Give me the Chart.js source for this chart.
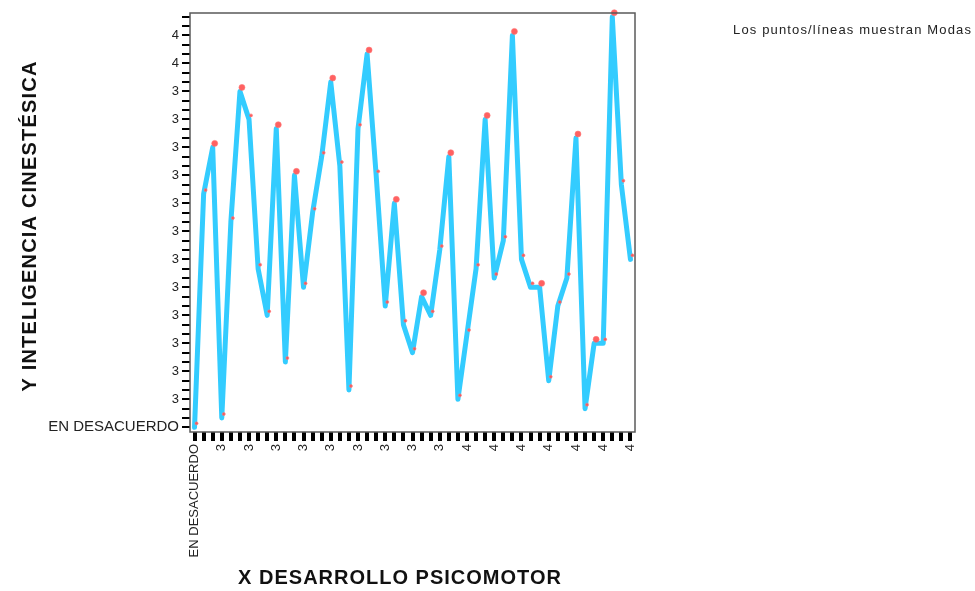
<!DOCTYPE html>
<html lang="es">
<head>
    <meta charset="UTF-8">
    <title>Y INTELIGENCIA CINESTÉSICA por X DESARROLLO PSICOMOTOR</title>
    <style>
        html, body { margin: 0; padding: 0; background: #fff; overflow: hidden; }
        canvas { display: block; }
    </style>
</head>
<body>
    <canvas id="modeChart" width="975" height="591"></canvas>

    <script src="https://cdn.jsdelivr.net/npm/chart.js"></script>
    <script>
        // categorías del eje X (49), solo se rotula una de cada tres
        const xCategories = [
            'EN DESACUERDO', '3', '3', '3', '3', '3', '3', '3', '3', '3',
            '3', '3', '3', '3', '3', '3', '3', '3', '3', '3',
            '3', '3', '3', '3', '3', '3', '3', '3', '3', '3',
            '4', '4', '4', '4', '4', '4', '4', '4', '4', '4',
            '4', '4', '4', '4', '4', '4', '4', '4', '4'
        ];

        // categorías del eje Y (45 posiciones)
        const yCategories = [
            'EN DESACUERDO', '3', '3', '3', '3', '3', '3', '3', '3', '3',
            '3', '3', '3', '3', '3', '3', '3', '3', '3', '3',
            '3', '3', '3', '3', '3', '3', '3', '3', '3', '3',
            '3', '3', '3', '3', '3', '3', '3', '3', '3', '4',
            '4', '4', '4', '4', '4'
        ];

        // moda de Y para cada categoría de X (posición en el eje Y)
        const modeValues = [
            0, 25, 30, 1, 22, 36, 33, 17, 12, 32,
            7, 27, 15, 23, 29, 37, 28, 4, 32, 40,
            27, 13, 24, 11, 8, 14, 12, 19, 29, 3,
            10, 17, 33, 16, 20, 42, 18, 15, 15, 5,
            13, 16, 31, 2, 9, 9, 44, 26, 18
        ];

        const xTitle = 'X DESARROLLO PSICOMOTOR';
        const yTitle = 'Y INTELIGENCIA CINESTÉSICA';
        const note = 'Los puntos/líneas muestran Modas';

        const FONT = '"Liberation Sans", Arial, sans-serif';

        // marcadores algo desplazados respecto de la línea, como en el original
        const markerShift = {
            id: 'markerShift',
            beforeDatasetDraw(chart, args) {
                if (args.index === 1) {
                    chart.ctx.save();
                    chart.ctx.translate(2, -4);
                }
            },
            afterDatasetDraw(chart, args) {
                if (args.index === 1) chart.ctx.restore();
            }
        };

        // marco del área, títulos y nota
        const frameAndText = {
            id: 'frameAndText',
            afterDraw(chart) {
                const ctx = chart.ctx;
                const a = chart.chartArea;
                ctx.save();
                ctx.strokeStyle = '#5a5a5a';
                ctx.lineWidth = 1.5;
                ctx.strokeRect(a.left, a.top, a.right - a.left, a.bottom - a.top);

                ctx.fillStyle = '#111';
                ctx.font = 'bold 20px ' + FONT;
                ctx.letterSpacing = '1px';
                ctx.textAlign = 'center';
                ctx.textBaseline = 'middle';
                ctx.fillText(xTitle, 400, 578);

                ctx.save();
                ctx.letterSpacing = '1.2px';
                ctx.translate(30, 226);
                ctx.rotate(-Math.PI / 2);
                ctx.fillText(yTitle, 0, 0);
                ctx.restore();

                ctx.font = '13px ' + FONT;
                ctx.letterSpacing = '1.15px';
                ctx.fillStyle = '#222';
                ctx.textAlign = 'left';
                ctx.fillText(note, 733, 30);
                ctx.restore();
            }
        };

        function isPeak(ctx) {
            const i = ctx.dataIndex;
            const v = modeValues[i];
            const prev = i > 0 ? modeValues[i - 1] : -1;
            const next = i < modeValues.length - 1 ? modeValues[i + 1] : -1;
            return v >= prev && v >= next;
        }

        new Chart(document.getElementById('modeChart'), {
            type: 'line',
            data: {
                labels: xCategories,
                datasets: [
                    {
                        data: modeValues,
                        borderColor: 'rgb(51, 204, 255)',
                        borderWidth: 5,
                        borderJoinStyle: 'round',
                        borderCapStyle: 'round',
                        pointRadius: 0,
                        fill: false,
                        tension: 0,
                        clip: false,
                        order: 2
                    },
                    {
                        data: modeValues,
                        showLine: false,
                        pointStyle: 'circle',
                        pointRadius: ctx => isPeak(ctx) ? 3 : 1.5,
                        pointBackgroundColor: 'rgba(255, 80, 80, 0.9)',
                        pointBorderColor: 'rgba(255, 120, 120, 0.6)',
                        pointBorderWidth: 1,
                        clip: false,
                        order: 1
                    }
                ]
            },
            options: {
                responsive: false,
                animation: false,
                layout: { padding: { top: 13, right: 340, left: 0, bottom: 0 } },
                plugins: {
                    legend: { display: false },
                    tooltip: { enabled: false }
                },
                scales: {
                    x: {
                        type: 'category',
                        offset: true,
                        afterFit(scale) { scale.height = 159; },
                        grid: {
                            offset: false,
                            drawOnChartArea: false,
                            drawTicks: true,
                            tickLength: 9,
                            tickColor: '#000',
                            lineWidth: 4
                        },
                        border: { display: false },
                        ticks: {
                            autoSkip: false,
                            maxRotation: 90,
                            minRotation: 90,
                            padding: 3,
                            color: '#222',
                            font: { family: FONT, size: 13 },
                            callback: (value, index) => index % 3 === 0 ? xCategories[index] : ''
                        }
                    },
                    y: {
                        type: 'linear',
                        min: -0.5,
                        max: 44.4,
                        afterFit(scale) { scale.width = 190; },
                        afterBuildTicks(scale) {
                            scale.ticks = yCategories.map((_, i) => ({ value: i }));
                        },
                        grid: {
                            drawOnChartArea: false,
                            drawTicks: true,
                            tickLength: 8,
                            tickColor: '#000',
                            lineWidth: 2
                        },
                        border: { display: false },
                        ticks: {
                            autoSkip: false,
                            padding: 3,
                            color: '#222',
                            font: ctx => ({ family: FONT, size: ctx.index === 0 ? 15 : 13 }),
                            callback: (value, index) => index % 3 === 0 ? yCategories[index] : ''
                        }
                    }
                }
            },
            plugins: [markerShift, frameAndText]
        });
    </script>
</body>
</html>
